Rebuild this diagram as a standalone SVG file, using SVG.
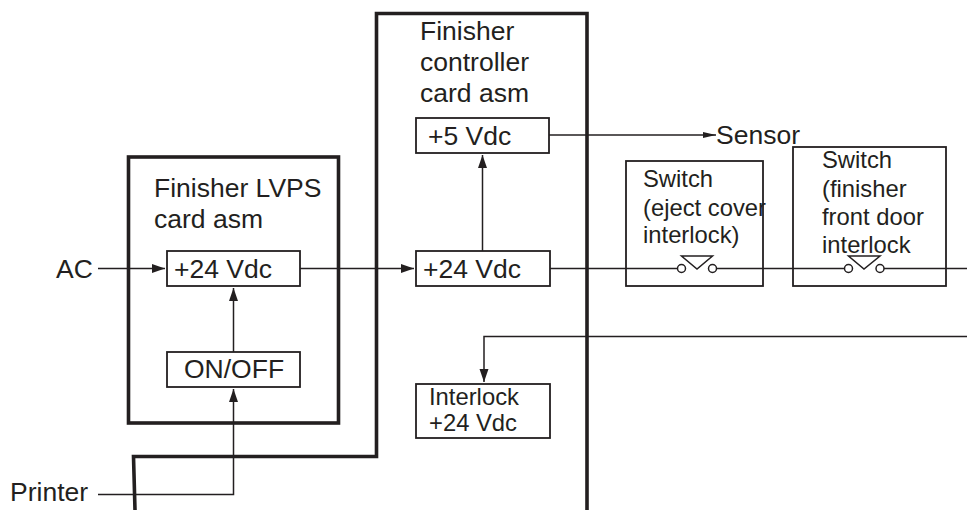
<svg xmlns="http://www.w3.org/2000/svg" width="967" height="510" viewBox="0 0 967 510">
<style>
text{font-family:"Liberation Sans",Arial,sans-serif;font-size:26.500px;fill:#231f20}
.s{font-size:23.800px}
.b{fill:none;stroke:#231f20;stroke-width:1.8}
.t{fill:none;stroke:#231f20;stroke-width:3.6}
.c{fill:none;stroke:#231f20;stroke-width:1.5}
.o{fill:#fff;stroke:#231f20;stroke-width:1.5}
</style>
<defs>
<marker id="a" markerUnits="userSpaceOnUse" markerWidth="14" markerHeight="10" refX="13" refY="5" orient="auto"><path d="M0 .5L13 5L0 9.500Z" fill="#231f20"/></marker>
<marker id="m" markerUnits="userSpaceOnUse" markerWidth="14" markerHeight="10" refX="13" refY="5" orient="auto"><path d="M0 2L13 5L0 8Z" fill="#231f20"/></marker>
</defs>
<rect width="967" height="510" fill="#fff"/>
<g id="controller-outline"><path class="t" d="M135 510L133.500 456.500H376.500V13.500H587V510"/></g>
<g id="lvps"><rect class="t" x="128.500" y="157" width="210" height="266"/>
<text x="154" y="197">Finisher LVPS</text><text x="154" y="228">card asm</text></g>
<g id="connectors">
<path class="c" d="M98 268.500H165" marker-end="url(#a)"/>
<path class="c" d="M300 268.500H414" marker-end="url(#a)"/>
<path class="c" d="M233.500 352V288" marker-end="url(#a)"/>
<path class="c" d="M98 494.500H233.500V389" marker-end="url(#a)"/>
<path class="c" d="M482.500 251V155" marker-end="url(#a)"/>
<path class="c" d="M549 135H716" marker-end="url(#m)"/>
<path class="c" d="M550 268.500H677M717 268.500H844M884 268.500H967"/>
<path class="c" d="M967 336.500H484V382" marker-end="url(#a)"/>
</g>
<g id="vdc24-lvps"><rect class="b" x="167" y="251" width="133" height="35"/><text x="174" y="278">+24 Vdc</text></g>
<g id="onoff"><rect class="b" x="167" y="352" width="133" height="35"/><text x="184" y="378">ON/OFF</text></g>
<g id="vdc24-ctrl"><rect class="b" x="416" y="251" width="134" height="35"/><text x="423" y="278">+24 Vdc</text></g>
<g id="vdc5"><rect class="b" x="416" y="118" width="133" height="35"/><text x="428" y="145">+5 Vdc</text></g>
<g id="interlock"><rect class="b" x="416" y="384" width="134" height="54"/><text class="s" x="429" y="405">Interlock</text><text class="s" x="429" y="431">+24 Vdc</text></g>
<g id="finisher-label"><text x="420" y="40">Finisher</text><text x="420" y="71">controller</text><text x="420" y="102">card asm</text></g>
<g id="sensor"><text x="716" y="143.500">Sensor</text></g>
<g id="switch1"><rect class="b" x="626" y="161" width="137" height="125"/>
<text class="s" x="643" y="187">Switch</text><text class="s" x="643" y="216">(eject cover</text><text class="s" x="643" y="243">interlock)</text>
<path class="c" d="M681.500 256H712.500L697 269Z"/><circle class="o" cx="681.500" cy="268.500" r="4"/><circle class="o" cx="712.500" cy="268.500" r="4"/></g>
<g id="switch2"><rect class="b" x="793" y="147" width="153" height="139"/>
<text class="s" x="822" y="168">Switch</text><text class="s" x="822" y="197">(finisher</text><text class="s" x="822" y="225">front door</text><text class="s" x="822" y="253">interlock</text>
<path class="c" d="M848.500 256H880L864 269Z"/><circle class="o" cx="848.500" cy="268.500" r="4"/><circle class="o" cx="880" cy="268.500" r="4"/></g>
<g id="ext-labels"><text x="56" y="277.500">AC</text><text x="10" y="501">Printer</text></g>
</svg>
